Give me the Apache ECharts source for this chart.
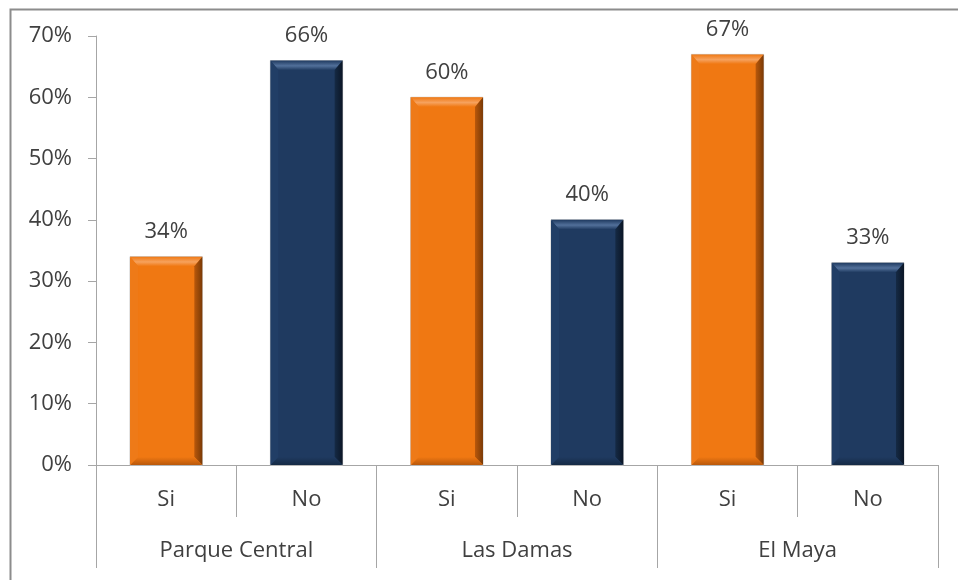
<!DOCTYPE html>
<html>
<head>
<meta charset="utf-8">
<script src="https://cdn.jsdelivr.net/npm/echarts@6/dist/echarts.min.js"></script>
<style>
html,body{margin:0;padding:0;background:#fff;}
#chart{width:958px;height:580px;}
</style>
</head>
<body>
<div id="chart"></div>
<script>
const groups = ['Parque Central', 'Las Damas', 'El Maya'];
const answers = ['Si', 'No'];
const siValues = [34, 60, 67];
const noValues = [66, 40, 33];
const yTicks = [0, 10, 20, 30, 40, 50, 60, 70];

const categories = [];
const barData = [];
groups.forEach((g, gi) => {
  answers.forEach((a, ai) => {
    categories.push(a);
    barData.push([categories.length - 1, ai === 0 ? siValues[gi] : noValues[gi], ai]);
  });
});

const palette = [
  { main: '#F07812', light: '#F6A25E', dark: '#7A3A06', mid: '#B9580B', left: '#EE7A18' },
  { main: '#1F3A60', light: '#52709A', dark: '#0B1626', mid: '#152A45', left: '#213E66' }
];

const FONT = '"Open Sans", Lato, sans-serif';
const TXT = '#404040';
const AX = '#A6A6A6';

const chart = echarts.init(document.getElementById('chart'), null, { renderer: 'canvas' });

chart.setOption({
  animation: false,
  backgroundColor: '#fff',
  graphic: [{
    type: 'rect', left: 8, top: 7, shape: { width: 1000, height: 1000 },
    style: { fill: 'none', stroke: '#8C8C8C', lineWidth: 2 }, silent: true, z: 100
  }],
  grid: { left: 96, right: 20, top: 36, bottom: 115, containLabel: false },
  xAxis: [
    {
      type: 'category', data: categories, position: 'bottom',
      axisLine: { show: true, lineStyle: { color: AX, width: 1 } },
      axisTick: { show: true, interval: 0, length: 52, lineStyle: { color: AX } },
      axisLabel: { interval: 0, margin: 24, color: TXT, fontSize: 22, fontFamily: FONT }
    },
    {
      type: 'category', data: groups, position: 'bottom', gridIndex: 0,
      axisLine: { show: false },
      axisTick: { show: true, interval: 0, length: 103, lineStyle: { color: AX } },
      axisLabel: { interval: 0, margin: 75, color: TXT, fontSize: 22, fontFamily: FONT }
    }
  ],
  yAxis: {
    type: 'value', min: yTicks[0], max: yTicks[yTicks.length - 1], interval: 10,
    axisLine: { show: true, lineStyle: { color: AX } },
    axisTick: { show: true, length: 8, lineStyle: { color: AX } },
    splitLine: { show: false },
    axisLabel: { formatter: '{value}%', margin: 24, color: TXT, fontSize: 22, fontFamily: FONT }
  },
  series: [{
    type: 'custom',
    xAxisIndex: 0,
    data: barData,
    encode: { x: 0, y: 1 },
    renderItem: function (params, api) {
      const idx = api.value(0);
      const val = api.value(1);
      const p = palette[api.value(2)];
      const top = api.coord([idx, val]);
      const base = api.coord([idx, 0]);
      const bw = api.size([1, 0])[0] * 0.515;
      const x0 = top[0] - bw / 2, x1 = top[0] + bw / 2;
      const y0 = top[1], y1 = base[1];
      const b = 8;
      return {
        type: 'group',
        children: [
          { type: 'rect', shape: { x: x0, y: y0, width: bw, height: y1 - y0 },
            style: { fill: p.main, stroke: '#C8C8C8', lineWidth: 1 } },
          { type: 'polygon', shape: { points: [[x0, y0], [x1, y0], [x1 - b, y0 + b * 1.2], [x0 + b, y0 + b * 1.2]] },
            style: { fill: new echarts.graphic.LinearGradient(0, 0, 0, 1, [{ offset: 0, color: p.main }, { offset: 0.55, color: p.light }, { offset: 1, color: p.main }]) } },
          { type: 'polygon', shape: { points: [[x1, y0], [x1, y1], [x1 - b, y1 - b], [x1 - b, y0 + b * 1.2]] },
            style: { fill: new echarts.graphic.LinearGradient(0, 0, 1, 0, [{ offset: 0, color: p.mid }, { offset: 1, color: p.dark }]) } },
          { type: 'polygon', shape: { points: [[x0, y1], [x1, y1], [x1 - b, y1 - b], [x0 + b, y1 - b]] },
            style: { fill: new echarts.graphic.LinearGradient(0, 0, 0, 1, [{ offset: 0, color: p.main }, { offset: 1, color: p.mid }]) } },
          { type: 'polygon', shape: { points: [[x0, y0], [x0 + b, y0 + b * 1.2], [x0 + b, y1 - b], [x0, y1]] },
            style: { fill: p.left } },
          { type: 'text', x: top[0], y: y0 - 14,
            style: { text: val + '%', align: 'center', verticalAlign: 'bottom', fill: TXT, fontSize: 22, fontFamily: FONT } }
        ]
      };
    }
  }]
});
</script>
</body>
</html>
